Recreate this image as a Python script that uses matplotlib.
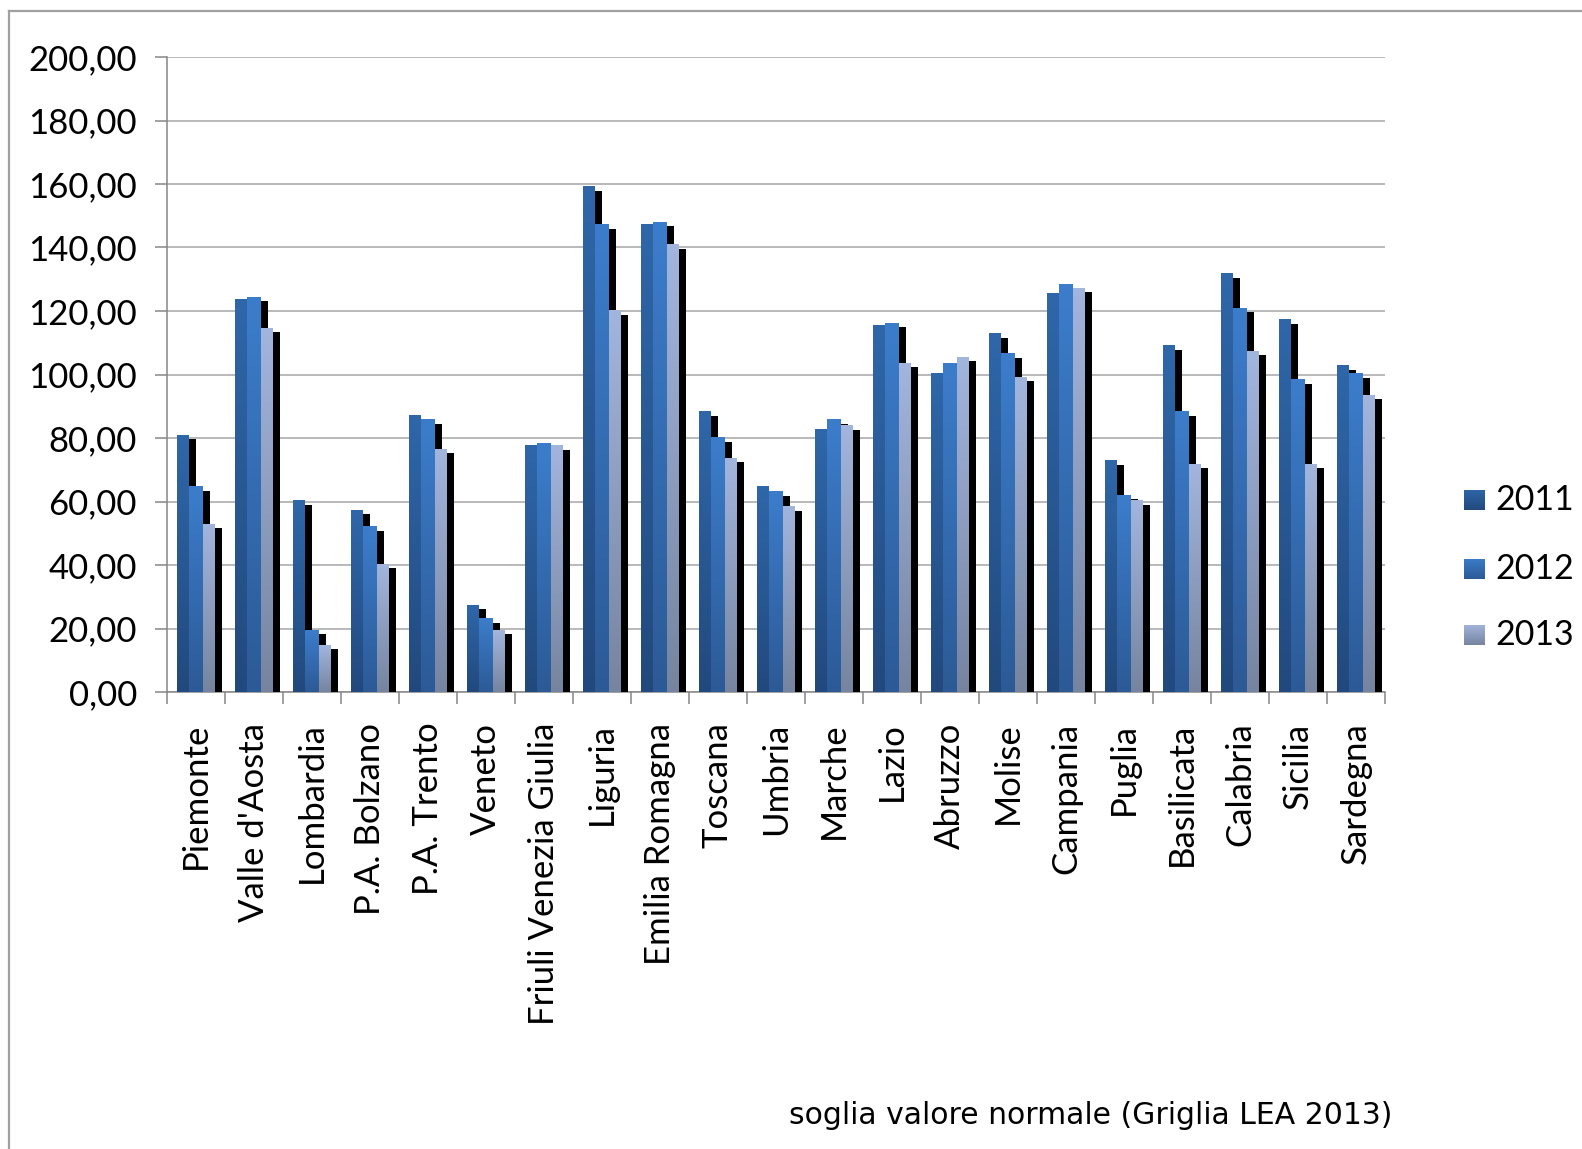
import numpy as np
import matplotlib
matplotlib.use("Agg")
import matplotlib.pyplot as plt
from matplotlib.colors import LinearSegmentedColormap
from matplotlib.lines import Line2D

# ---- data -------------------------------------------------------------
regions = ["Piemonte", "Valle d'Aosta", "Lombardia", "P.A. Bolzano", "P.A. Trento",
           "Veneto", "Friuli Venezia Giulia", "Liguria", "Emilia Romagna", "Toscana",
           "Umbria", "Marche", "Lazio", "Abruzzo", "Molise", "Campania", "Puglia",
           "Basilicata", "Calabria", "Sicilia", "Sardegna"]
years = ["2011", "2012", "2013"]
v2011 = [80.9, 123.5, 60.2, 57.3, 87.2, 27.4, 77.5, 159.1, 147.1, 88.2, 64.6,
         82.8, 115.3, 100.2, 112.8, 125.4, 72.8, 109.0, 131.7, 117.2, 102.7]
v2012 = [64.6, 124.4, 19.5, 52.0, 85.7, 23.0, 78.4, 147.1, 148.0, 80.0, 63.0,
         85.7, 116.2, 103.6, 106.5, 128.2, 62.0, 88.2, 120.9, 98.3, 100.2]
v2013 = [52.9, 114.6, 14.8, 40.3, 76.5, 19.5, 77.5, 120.0, 140.8, 73.7, 58.3,
         83.8, 103.6, 105.5, 99.2, 127.2, 60.2, 71.8, 107.4, 71.8, 93.5]
y_ticks = [0, 20, 40, 60, 80, 100, 120, 140, 160, 180, 200]
footer = "soglia valore normale (Griglia LEA 2013)"

series = [v2011, v2012, v2013]
# gradient colours (top, bottom) for each year
grad_colors = [("#2F67A9", "#22497D"),
               ("#3C7DCB", "#2C5A96"),
               ("#A2B5DD", "#76849F")]

# ---- figure -----------------------------------------------------------
W, H, DPI = 1582, 1149, 100
plt.rcParams["font.family"] = ["Lato", "DejaVu Sans"]
fig = plt.figure(figsize=(W / DPI, H / DPI), dpi=DPI)
fig.patch.set_facecolor("white")

# outer chart frame
frame_col = "#A0A0A0"
fig.add_artist(Line2D([9 / W, 9 / W], [0, 1 - 11 / H], transform=fig.transFigure,
                      color=frame_col, lw=1.6))
fig.add_artist(Line2D([9 / W, 1], [1 - 11 / H, 1 - 11 / H], transform=fig.transFigure,
                      color=frame_col, lw=1.6))

left_px, right_px, top_px, bot_px = 167, 1385, 57, 692
ax = fig.add_axes([left_px / W, 1 - bot_px / H,
                   (right_px - left_px) / W, (bot_px - top_px) / H])

n = len(regions)
cat_px = (right_px - left_px) / n
unit_per_px_y = 200 / (bot_px - top_px)

# bar layout inside a category, in pixel offsets from the centre
bar_edges_px = [(-19, -7), (-7, 7), (7, 19)]
shadow_w_px = 7
shadow_dy = 4 * unit_per_px_y

grad = np.linspace(0, 1, 256).reshape(-1, 1)
cmaps = [LinearSegmentedColormap.from_list(f"g{i}", [b, t])
         for i, (t, b) in enumerate(grad_colors)]

for i in range(n):
    for k, vals in enumerate(series):
        v = vals[i]
        x0 = i + bar_edges_px[k][0] / cat_px
        x1 = i + bar_edges_px[k][1] / cat_px
        sw = shadow_w_px / cat_px
        z = 2 + 2 * k
        # dark side shadow to the right of the bar
        ax.bar(x1, v - shadow_dy, width=sw, align="edge", color="black",
               linewidth=0, zorder=z)
        # gradient face
        ax.imshow(grad, extent=(x0, x1, 0, v), origin="lower", aspect="auto",
                  cmap=cmaps[k], interpolation="bilinear", zorder=z + 1)

ax.set_xlim(-0.5, n - 0.5)
ax.set_ylim(0, 200)

# axes styling
axis_col = "#868686"
for s in ["top", "right"]:
    ax.spines[s].set_visible(False)
for s in ["left", "bottom"]:
    ax.spines[s].set_color(axis_col)
    ax.spines[s].set_linewidth(1.1)

LABEL_FS = 25
ax.set_yticks(y_ticks)
ax.set_yticklabels([f"{t:.2f}".replace(".", ",") for t in y_ticks])
ax.yaxis.grid(True, color="#A6A6A6", linewidth=1.1)
ax.set_axisbelow(True)
ax.tick_params(axis="y", direction="out", length=8.6, width=1.1, color=axis_col,
               labelsize=LABEL_FS, pad=13, labelcolor="black")

ax.set_xticks(np.arange(-0.5, n, 1.0))
ax.set_xticklabels([])
ax.tick_params(axis="x", which="major", direction="out", length=8.6, width=1.1,
               color=axis_col)
ax.set_xticks(np.arange(n), minor=True)
ax.set_xticklabels(regions, minor=True, rotation=90, fontsize=LABEL_FS)
ax.tick_params(axis="x", which="minor", length=0, pad=22)

# legend
leg_x0, leg_sz = 1464, 21
leg_rows = [500, 569, 635]
for k, yr in enumerate(years):
    yc = leg_rows[k]
    lax = fig.add_axes([leg_x0 / W, 1 - (yc + leg_sz / 2) / H, leg_sz / W, leg_sz / H])
    lax.imshow(grad, origin="lower", aspect="auto", cmap=cmaps[k],
               extent=(0, 1, 0, 1), interpolation="bilinear")
    lax.set_axis_off()
    fig.text(1495 / W, 1 - yc / H, yr, fontsize=24.5, va="center", ha="left")

fig.text(1091 / W, 1 - 1115 / H, footer, fontsize=21.5, ha="center", va="center",
         family=["DejaVu Sans"])

fig.savefig("out.png", dpi=DPI, facecolor="white")
